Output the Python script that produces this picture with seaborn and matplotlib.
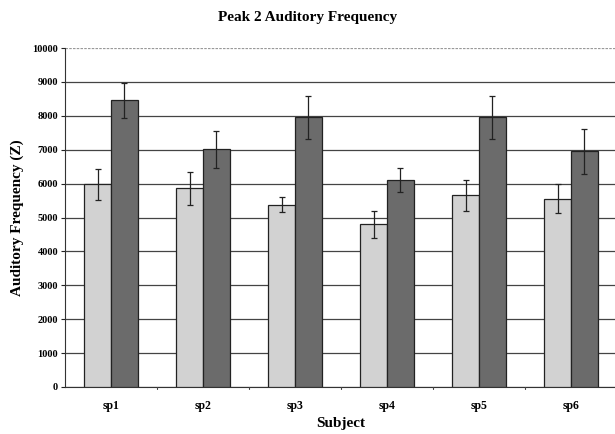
import numpy as np
import pandas as pd
import matplotlib
matplotlib.use("Agg")
import matplotlib.pyplot as plt
import seaborn as sns

# data
subjects = ["sp1", "sp2", "sp3", "sp4", "sp5", "sp6"]
light_mean = [5980, 5860, 5370, 4800, 5650, 5560]
light_err = [460, 490, 220, 390, 460, 440]
dark_mean = [8460, 7010, 7950, 6110, 7950, 6950]
dark_err = [520, 540, 640, 350, 640, 660]
series = ["Light", "Dark"]

df = pd.DataFrame({
    "Subject": subjects * 2,
    "Freq": light_mean + dark_mean,
    "Err": light_err + dark_err,
    "Series": [series[0]] * len(subjects) + [series[1]] * len(subjects),
})

sns.set_style("white")
plt.rcParams["font.family"] = ["Liberation Serif", "DejaVu Serif"]

fig = plt.figure(figsize=(6.15, 4.34), dpi=100)
ax = fig.add_axes([65 / 615, 1 - 387 / 434, 552 / 615, (387 - 48) / 434])

sns.barplot(data=df, x="Subject", y="Freq", hue="Series",
            palette=["#d2d2d2", "#6b6b6b"], width=0.58,
            edgecolor="#222222", linewidth=0.9, errorbar=None,
            legend=False, ax=ax, zorder=3)

# error bars at bar centres
for i, s in enumerate(series):
    sub = df[df["Series"] == s]
    bars = ax.containers[i]
    xs = [b.get_x() + b.get_width() / 2 for b in bars]
    ax.errorbar(xs, sub["Freq"], yerr=sub["Err"], fmt="none",
                ecolor="#222222", elinewidth=0.9, capsize=2, capthick=0.9,
                zorder=4)

ax.set_ylim(0, 10000)
ax.set_yticks(np.arange(0, 10001, 1000))
ax.set_xlim(-0.5, len(subjects) - 0.5)
ax.yaxis.grid(True, color="#444444", linewidth=0.9, zorder=0)
gl = ax.get_ygridlines()[-1]
gl.set_linestyle((0, (2, 1)))
gl.set_color("#999999")

for sp in ["top", "right"]:
    ax.spines[sp].set_visible(False)
ax.spines["left"].set_color("#333333")
ax.spines["bottom"].set_color("#333333")

ax.tick_params(axis="y", direction="out", length=3, width=0.8,
               colors="#222222", labelcolor="black", labelsize=7.5,
               left=True, pad=2)
ax.tick_params(axis="x", length=0, labelsize=8.5, labelcolor="black", pad=9)
ax.set_xticks(range(len(subjects)))
ax.set_xticklabels(subjects, fontweight="bold")
for lab in ax.get_yticklabels():
    lab.set_fontweight("bold")

# small tick marks at category boundaries
for b in np.arange(0.5, len(subjects) - 0.5, 1.0):
    ax.plot([b, b], [0, -60], color="#444444", linewidth=0.8,
            clip_on=False, zorder=5)

ax.set_xlabel("Subject", fontsize=11, fontweight="bold", labelpad=4,
              color="black")
ax.set_ylabel("Auditory Frequency (Z)", fontsize=11, fontweight="bold",
              labelpad=6, color="black")
fig.text(0.5, 1 - 18 / 434, "Peak 2 Auditory Frequency", ha="center",
         va="center", fontsize=11, fontweight="bold", color="black")

fig.savefig("out.png", dpi=100)
